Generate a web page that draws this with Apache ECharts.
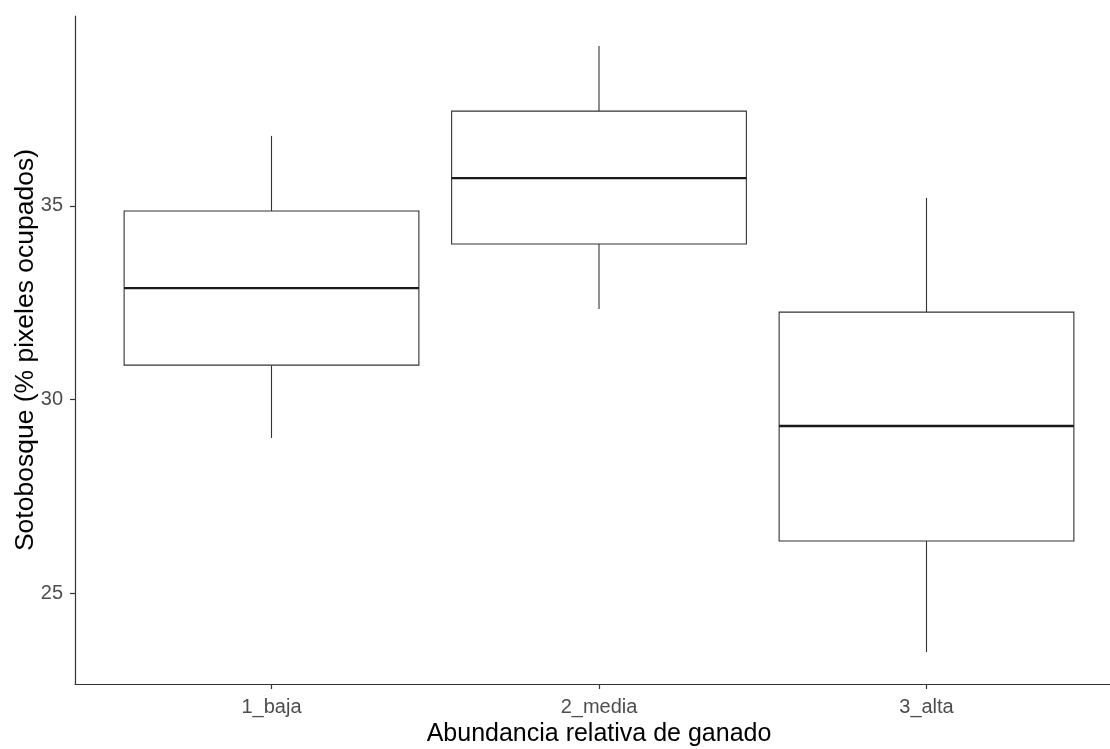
<!DOCTYPE html>
<html>
<head>
<meta charset="utf-8">
<script src="https://cdn.jsdelivr.net/npm/echarts@6/dist/echarts.min.js"></script>
<style>
html,body{margin:0;padding:0;background:#fff;}
#chart{width:1110px;height:749px;}
</style>
</head>
<body>
<div id="chart"></div>
<script>
const categories = ['1_baja', '2_media', '3_alta'];
const lowerWhisker = [29.01, 32.34, 23.48];
const q1 = [30.89, 34.02, 26.35];
const median = [32.88, 35.72, 29.32];
const q3 = [34.87, 37.45, 32.26];
const upperWhisker = [36.81, 39.13, 35.21];
const yTicks = [25, 30, 35];
const xTicks = [1, 2, 3];

const boxData = categories.map((c, i) => [i + 1, lowerWhisker[i], q1[i], median[i], q3[i], upperWhisker[i]]);

const chart = echarts.init(document.getElementById('chart'), null, {renderer: 'canvas'});
const lineColor = '#333333';
const font = '"Liberation Sans", Arial, sans-serif';

chart.setOption({
  animation: false,
  backgroundColor: '#ffffff',
  grid: {left: 75, right: -13, top: 16, bottom: 65, containLabel: false, outerBoundsMode: 'none'},
  xAxis: {
    type: 'value', min: 0.4, max: 3.6,
    name: 'Abundancia relativa de ganado',
    nameLocation: 'middle', nameGap: 30,
    nameTextStyle: {color: '#000', fontSize: 25, fontFamily: font},
    axisLine: {show: true, onZero: false, lineStyle: {color: lineColor, width: 1.2}},
    axisTick: {show: true, length: 5, customValues: xTicks, lineStyle: {color: lineColor, width: 1.2}},
    axisLabel: {show: true, customValues: xTicks, margin: 13, color: '#4d4d4d', fontSize: 20, fontFamily: font,
      formatter: v => categories[Math.round(v) - 1]},
    splitLine: {show: false}
  },
  yAxis: {
    type: 'value', min: 22.656, max: 39.906,
    name: 'Sotobosque (% pixeles ocupados)',
    nameLocation: 'middle', nameGap: 36, nameRotate: 90, nameMoveOverlap: false,
    nameTextStyle: {color: '#000', fontSize: 26.5, fontFamily: font},
    axisLine: {show: true, onZero: false, lineStyle: {color: lineColor, width: 1.2}},
    axisTick: {show: true, length: 5, customValues: yTicks, lineStyle: {color: lineColor, width: 1.2}},
    axisLabel: {show: true, customValues: yTicks, margin: 12, color: '#4d4d4d', fontSize: 20, fontFamily: font},
    splitLine: {show: false}
  },
  series: [{
    type: 'custom',
    data: boxData,
    encode: {x: 0, y: [1, 2, 3, 4, 5]},
    renderItem: function (params, api) {
      const x = api.value(0);
      const pLo = api.coord([x, api.value(1)]);
      const pQ1 = api.coord([x, api.value(2)]);
      const pMed = api.coord([x, api.value(3)]);
      const pQ3 = api.coord([x, api.value(4)]);
      const pHi = api.coord([x, api.value(5)]);
      const halfW = api.size([0.9, 0])[0] / 2;
      const thin = {stroke: lineColor, lineWidth: 1.1, fill: null};
      return {
        type: 'group',
        children: [
          {type: 'line', shape: {x1: pHi[0], y1: pHi[1], x2: pQ3[0], y2: pQ3[1]}, style: thin},
          {type: 'line', shape: {x1: pQ1[0], y1: pQ1[1], x2: pLo[0], y2: pLo[1]}, style: thin},
          {type: 'rect', shape: {x: pQ3[0] - halfW, y: pQ3[1], width: halfW * 2, height: pQ1[1] - pQ3[1]},
            style: {stroke: lineColor, lineWidth: 1.1, fill: '#ffffff'}},
          {type: 'line', shape: {x1: pMed[0] - halfW, y1: pMed[1], x2: pMed[0] + halfW, y2: pMed[1]},
            style: {stroke: '#1a1a1a', lineWidth: 2.4}}
        ]
      };
    }
  }]
});
</script>
</body>
</html>
